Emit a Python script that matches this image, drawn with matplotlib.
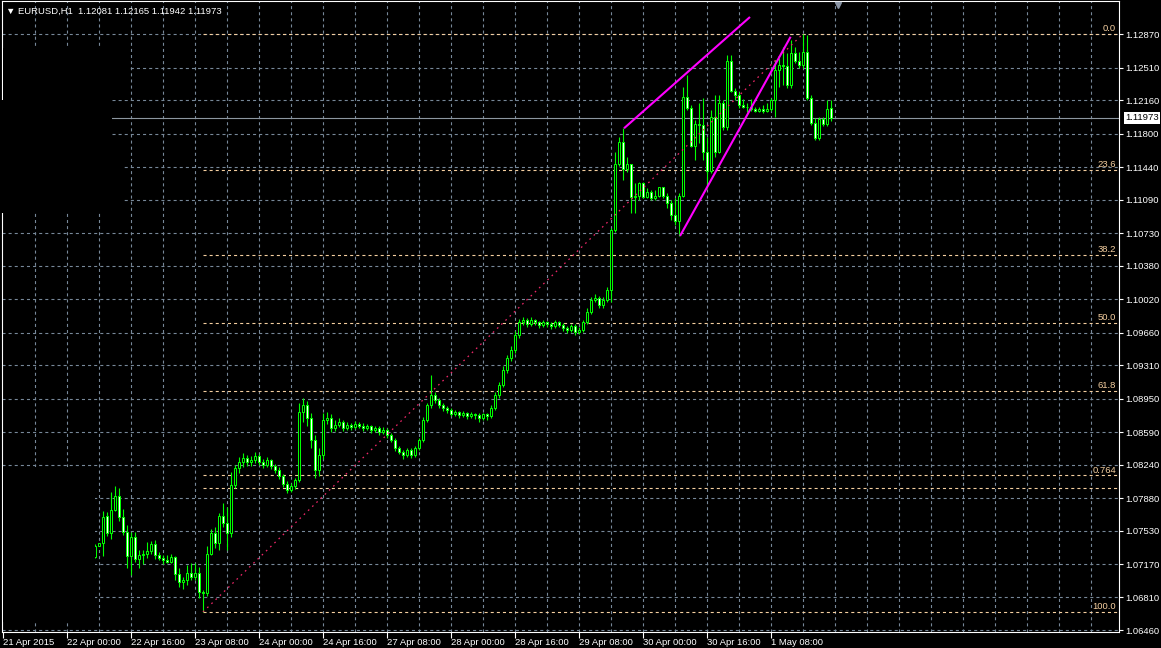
import matplotlib
matplotlib.use("Agg")
import matplotlib.pyplot as plt
from matplotlib.patches import Rectangle
from matplotlib.transforms import blended_transform_factory
from pathlib import Path
from typing import Tuple

plt.rcParams["font.family"] = ["Liberation Sans", "DejaVu Sans"]
plt.rcParams["lines.scale_dashes"] = False

LIME = "#00FF00"
GRID = "#778899"
FIB = "#F5CFA0"
TREND = "#F0286A"
CHANNEL = "#FF00FF"
FONT_SIZE = 6.8

SYMBOL_TEXT = "\u25bc EURUSD,H1  1.12081 1.12165 1.11942 1.11973"

# hourly bars, bar 0 = 21 Apr 2015 08:00, first visible bar is 23
FIRST_BAR = 23
opens = [
    1.07245, 1.07367, 1.07393, 1.07687, 1.07507, 1.07751, 1.07902, 1.07676, 1.07518, 1.07260,  # 23
    1.07461, 1.07224, 1.07272, 1.07274, 1.07310, 1.07385, 1.07267, 1.07235, 1.07217, 1.07192,  # 33
    1.07246, 1.07063, 1.06980, 1.06998, 1.07077, 1.07030, 1.07073, 1.06872, 1.06858, 1.07278,  # 43
    1.07504, 1.07396, 1.07687, 1.07615, 1.07507, 1.08020, 1.08203, 1.08268, 1.08311, 1.08268,  # 53
    1.08289, 1.08332, 1.08268, 1.08236, 1.08289, 1.08225, 1.08182, 1.08117, 1.08031, 1.07967,  # 63
    1.08010, 1.08074, 1.08806, 1.08881, 1.08741, 1.08505, 1.08182, 1.08343, 1.08720, 1.08741,  # 73
    1.08634, 1.08666, 1.08698, 1.08634, 1.08666, 1.08645, 1.08677, 1.08655, 1.08634, 1.08655,  # 83
    1.08612, 1.08634, 1.08591, 1.08612, 1.08558, 1.08505, 1.08418, 1.08375, 1.08343, 1.08397,  # 93
    1.08343, 1.08418, 1.08505, 1.08720, 1.08881, 1.08989, 1.08935, 1.08881, 1.08849, 1.08827,  # 103
    1.08784, 1.08806, 1.08774, 1.08795, 1.08763, 1.08784, 1.08774, 1.08741, 1.08784, 1.08763,  # 113
    1.08849, 1.08989, 1.09096, 1.09258, 1.09387, 1.09473, 1.09635, 1.09774, 1.09796, 1.09753,  # 123
    1.09796, 1.09774, 1.09742, 1.09774, 1.09753, 1.09731, 1.09774, 1.09742, 1.09710, 1.09688,  # 133
    1.09731, 1.09667, 1.09688, 1.09774, 1.09882, 1.10011, 1.10033, 1.09957, 1.10011, 1.10119,  # 143
    1.10764, 1.11471, 1.11708, 1.11421, 1.11471, 1.11116, 1.11130, 1.11267, 1.11123, 1.11173,  # 153
    1.11105, 1.11130, 1.11224, 1.11130, 1.11052, 1.10926, 1.10865, 1.11133, 1.12192, 1.12074,  # 163
    1.11672, 1.11905, 1.11894, 1.11607, 1.11403, 1.11984, 1.11607, 1.12128, 1.11876, 1.12583,  # 173
    1.12263, 1.12217, 1.12110, 1.12091, 1.12091, 1.12063, 1.12048, 1.12063, 1.12048, 1.12063,  # 183
    1.12163, 1.12486, 1.12540, 1.12529, 1.12325, 1.12672, 1.12586, 1.12540, 1.12683, 1.12182,  # 193
    1.11919, 1.11751, 1.11956, 1.11905, 1.12081,  # 203
]
highs = [
    1.07385, 1.07400, 1.07740, 1.07730, 1.07945, 1.08010, 1.07988, 1.07762, 1.07590, 1.07518,
    1.07515, 1.07321, 1.07321, 1.07407, 1.07418, 1.07428, 1.07299, 1.07267, 1.07267, 1.07281,
    1.07256, 1.07127, 1.07034, 1.07159, 1.07181, 1.07181, 1.07141, 1.06890, 1.07364, 1.07547,
    1.07572, 1.07722, 1.07827, 1.07787, 1.08160, 1.08240, 1.08320, 1.08360, 1.08340, 1.08330,
    1.08380, 1.08350, 1.08300, 1.08320, 1.08300, 1.08250, 1.08210, 1.08140, 1.08060, 1.08040,
    1.08100, 1.08900, 1.08960, 1.08920, 1.08790, 1.08560, 1.08420, 1.08800, 1.08810, 1.08780,
    1.08720, 1.08740, 1.08720, 1.08700, 1.08690, 1.08710, 1.08700, 1.08690, 1.08680, 1.08670,
    1.08660, 1.08650, 1.08640, 1.08630, 1.08580, 1.08530, 1.08440, 1.08400, 1.08420, 1.08420,
    1.08440, 1.08530, 1.08750, 1.08900, 1.09200, 1.09020, 1.08960, 1.08900, 1.08870, 1.08850,
    1.08830, 1.08820, 1.08820, 1.08810, 1.08810, 1.08800, 1.08790, 1.08800, 1.08800, 1.08880,
    1.09020, 1.09130, 1.09300, 1.09420, 1.09520, 1.09680, 1.09810, 1.09830, 1.09820, 1.09830,
    1.09810, 1.09790, 1.09800, 1.09790, 1.09770, 1.09800, 1.09790, 1.09760, 1.09730, 1.09750,
    1.09750, 1.09720, 1.09800, 1.09920, 1.10040, 1.10080, 1.10050, 1.10040, 1.10150, 1.10786,
    1.11607, 1.11768, 1.11859, 1.11553, 1.11475, 1.11267, 1.11284, 1.11278, 1.11213, 1.11195,
    1.11195, 1.11230, 1.11230, 1.11159, 1.11087, 1.11109, 1.11163, 1.12306, 1.12432, 1.12110,
    1.11948, 1.12128, 1.12182, 1.11768, 1.12056, 1.12217, 1.12217, 1.12163, 1.12648, 1.12648,
    1.12292, 1.12253, 1.12171, 1.12128, 1.12174, 1.12091, 1.12088, 1.12110, 1.12128, 1.12182,
    1.12594, 1.12612, 1.12737, 1.12669, 1.12809, 1.12737, 1.12683, 1.12875, 1.12863, 1.12217,
    1.11966, 1.11984, 1.11984, 1.12163, 1.12165,
]
lows = [
    1.07235, 1.07360, 1.07256, 1.07472, 1.07443, 1.07740, 1.07636, 1.07482, 1.07127, 1.07052,
    1.07192, 1.07127, 1.07170, 1.07235, 1.07278, 1.07224, 1.07213, 1.07170, 1.07181, 1.07181,
    1.06998, 1.06923, 1.06904, 1.06944, 1.06998, 1.06998, 1.06804, 1.06657, 1.06829, 1.07267,
    1.07342, 1.07321, 1.07568, 1.07321, 1.07461, 1.07990, 1.08150, 1.08210, 1.08220, 1.08230,
    1.08260, 1.08240, 1.08200, 1.08210, 1.08190, 1.08150, 1.08090, 1.08000, 1.07930, 1.07940,
    1.07980, 1.08050, 1.08700, 1.08650, 1.08420, 1.08100, 1.08120, 1.08300, 1.08680, 1.08590,
    1.08600, 1.08640, 1.08600, 1.08610, 1.08610, 1.08620, 1.08630, 1.08600, 1.08610, 1.08580,
    1.08590, 1.08560, 1.08570, 1.08530, 1.08480, 1.08390, 1.08350, 1.08300, 1.08320, 1.08310,
    1.08320, 1.08400, 1.08480, 1.08700, 1.08850, 1.08900, 1.08850, 1.08820, 1.08790, 1.08760,
    1.08760, 1.08740, 1.08750, 1.08730, 1.08740, 1.08730, 1.08700, 1.08720, 1.08720, 1.08740,
    1.08830, 1.08960, 1.09070, 1.09230, 1.09350, 1.09440, 1.09600, 1.09740, 1.09720, 1.09730,
    1.09740, 1.09710, 1.09720, 1.09720, 1.09700, 1.09710, 1.09720, 1.09680, 1.09660, 1.09670,
    1.09640, 1.09650, 1.09670, 1.09750, 1.09860, 1.09990, 1.09930, 1.09930, 1.09990, 1.09990,
    1.10743, 1.11453, 1.11302, 1.11389, 1.10947, 1.10947, 1.11087, 1.11109, 1.11105, 1.11087,
    1.11087, 1.11123, 1.11109, 1.11001, 1.10872, 1.10818, 1.10700, 1.11119, 1.12056, 1.11658,
    1.11518, 1.11697, 1.11518, 1.11213, 1.11375, 1.11553, 1.11593, 1.11841, 1.11841, 1.12249,
    1.12163, 1.12074, 1.12074, 1.12037, 1.12045, 1.12037, 1.12034, 1.12020, 1.12034, 1.12045,
    1.11984, 1.12306, 1.12325, 1.12292, 1.12289, 1.12562, 1.12508, 1.12508, 1.12163, 1.11894,
    1.11733, 1.11733, 1.11884, 1.11884, 1.11942,
]
closes = [
    1.07367, 1.07393, 1.07676, 1.07507, 1.07751, 1.07902, 1.07676, 1.07518, 1.07260, 1.07461,
    1.07224, 1.07267, 1.07280, 1.07310, 1.07385, 1.07267, 1.07235, 1.07217, 1.07192, 1.07246,
    1.07063, 1.06980, 1.06998, 1.07077, 1.07030, 1.07073, 1.06872, 1.06858, 1.07278, 1.07504,
    1.07396, 1.07687, 1.07615, 1.07507, 1.08020, 1.08203, 1.08268, 1.08311, 1.08268, 1.08289,
    1.08332, 1.08268, 1.08236, 1.08289, 1.08225, 1.08182, 1.08117, 1.08031, 1.07967, 1.08010,
    1.08074, 1.08806, 1.08881, 1.08741, 1.08505, 1.08182, 1.08343, 1.08720, 1.08741, 1.08634,
    1.08666, 1.08698, 1.08634, 1.08666, 1.08645, 1.08677, 1.08655, 1.08634, 1.08655, 1.08612,
    1.08634, 1.08591, 1.08612, 1.08558, 1.08505, 1.08418, 1.08375, 1.08343, 1.08397, 1.08343,
    1.08418, 1.08505, 1.08720, 1.08881, 1.08989, 1.08935, 1.08881, 1.08849, 1.08827, 1.08784,
    1.08806, 1.08774, 1.08795, 1.08763, 1.08784, 1.08774, 1.08741, 1.08784, 1.08763, 1.08849,
    1.08989, 1.09096, 1.09258, 1.09387, 1.09473, 1.09635, 1.09774, 1.09796, 1.09753, 1.09796,
    1.09774, 1.09742, 1.09774, 1.09753, 1.09731, 1.09774, 1.09742, 1.09710, 1.09688, 1.09731,
    1.09667, 1.09688, 1.09774, 1.09882, 1.10011, 1.10033, 1.09957, 1.10011, 1.10119, 1.10764,
    1.11471, 1.11708, 1.11421, 1.11471, 1.11116, 1.11130, 1.11267, 1.11123, 1.11173, 1.11105,
    1.11130, 1.11224, 1.11130, 1.11052, 1.10926, 1.10865, 1.11133, 1.12192, 1.12074, 1.11672,
    1.11905, 1.11894, 1.11607, 1.11403, 1.11984, 1.11607, 1.12128, 1.11876, 1.12583, 1.12263,
    1.12217, 1.12110, 1.12091, 1.12091, 1.12063, 1.12048, 1.12063, 1.12048, 1.12063, 1.12163,
    1.12486, 1.12540, 1.12529, 1.12325, 1.12672, 1.12586, 1.12540, 1.12683, 1.12182, 1.11919,
    1.11751, 1.11956, 1.11905, 1.12063, 1.11973,
]

time_ticks = [0, 16, 32, 48, 64, 80, 96, 112, 128, 144, 160, 176, 192]
time_labels = [
    "21 Apr 2015", "22 Apr 00:00", "22 Apr 16:00", "23 Apr 08:00",
    "24 Apr 00:00", "24 Apr 16:00", "27 Apr 08:00", "28 Apr 00:00",
    "28 Apr 16:00", "29 Apr 08:00", "30 Apr 00:00", "30 Apr 16:00",
    "1 May 08:00",
]
price_ticks = [
    1.12870, 1.12510, 1.12160, 1.11800, 1.11440, 1.11090, 1.10730,
    1.10380, 1.10020, 1.09660, 1.09310, 1.08950, 1.08590, 1.08240,
    1.07880, 1.07530, 1.07170, 1.06810, 1.06460,
]
bid_price = 1.11973

fib_bars = [50, 200]
fib_prices = [1.06655, 1.12875]
fib_levels = [0.0, 23.6, 38.2, 50.0, 61.8, 76.4, 78.6, 100.0]
fib_texts = ["0.0", "23.6", "38.2", "50.0", "61.8", "0.764", "", "100.0"]

channel_upper_bars = [155.25, 186.75]
channel_upper_prices = [1.11859, 1.13057]
channel_lower_bars = [169.25, 196.9]
channel_lower_prices = [1.10700, 1.12844]

# black rectangle objects hiding the left part of the chart
cover_bars = [(0.0, 31.75), (-0.75, 27.25), (-0.75, 30.25), (0.0, 23.0)]
cover_prices = [(1.12723, 1.12163), (1.12163, 1.11625),
                (1.11625, 1.10947), (1.08214, 1.06546)]

X_RANGE = (-0.25, 279.0)
Y_RANGE = (1.064385, 1.13229)
DASH = (2.2, 2.2)


def make_figure() -> Tuple[plt.Figure, plt.Axes]:
    fig = plt.figure(figsize=(11.61, 6.48), dpi=100, facecolor="black")
    ax = fig.add_axes([2 / 1161, 16 / 648, 1117 / 1161, 631 / 648])
    ax.set_facecolor("black")
    return fig, ax


def setup_axes(ax: plt.Axes) -> None:
    ax.set_xlim(*X_RANGE)
    ax.set_ylim(*Y_RANGE)
    for side in ("left", "right", "top", "bottom"):
        ax.spines[side].set_color("white")
        ax.spines[side].set_linewidth(0.8)
    ax.yaxis.tick_right()
    ax.set_yticks(price_ticks)
    ax.set_yticklabels([f"{p:.5f}" for p in price_ticks])
    ax.set_xticks(time_ticks)
    ax.set_xticklabels(time_labels)
    ax.tick_params(axis="y", colors="white", length=3, width=0.8,
                   pad=1.5, labelsize=FONT_SIZE)
    ax.tick_params(axis="x", colors="white", length=4, width=0.8,
                   pad=0.5, labelsize=FONT_SIZE)
    for lab in ax.get_xticklabels():
        lab.set_horizontalalignment("left")


def add_grid(ax: plt.Axes) -> None:
    style = dict(color=GRID, lw=0.8, dashes=DASH, zorder=1)
    for p in price_ticks:
        ax.axhline(p, **style)
    for b in range(8, int(X_RANGE[1]) + 1, 8):
        ax.axvline(b, **style)


def add_fibo(ax: plt.Axes) -> None:
    low, high = fib_prices
    span = high - low
    for level, text in zip(fib_levels, fib_texts):
        price = high - span * level / 100
        ax.plot([fib_bars[0], X_RANGE[1]], [price, price], color=FIB,
                lw=0.8, dashes=DASH, zorder=2)
        if text:
            ax.annotate(text, xy=(1, price),
                        xycoords=("axes fraction", "data"),
                        xytext=(-2, 0.6), textcoords="offset points",
                        ha="right", va="bottom", color=FIB,
                        fontsize=FONT_SIZE)
    ax.plot(fib_bars, fib_prices, color=TREND, lw=0.9,
            dashes=(1.2, 3.0), zorder=5)


def add_candles(ax: plt.Axes) -> None:
    bars = list(range(FIRST_BAR, FIRST_BAR + len(opens)))
    ax.vlines(bars, lows, highs, color=LIME, lw=0.8, zorder=3)
    bottoms = [min(o, c) for o, c in zip(opens, closes)]
    heights = [max(abs(c - o), 1e-6) for o, c in zip(opens, closes)]
    fills = ["black" if c >= o else "white" for o, c in zip(opens, closes)]
    ax.bar(bars, heights, bottom=bottoms, width=0.5, color=fills,
           edgecolor=LIME, linewidth=0.72, zorder=4)


def add_objects(ax: plt.Axes) -> None:
    ax.plot(channel_upper_bars, channel_upper_prices, color=CHANNEL,
            lw=1.5, solid_capstyle="butt", zorder=6)
    ax.plot(channel_lower_bars, channel_lower_prices, color=CHANNEL,
            lw=1.5, solid_capstyle="butt", zorder=6)

    ax.axhline(bid_price, color="#8C96A0", lw=0.8, zorder=2)
    ax.annotate(f"{bid_price:.5f}", xy=(1, bid_price),
                xycoords=("axes fraction", "data"),
                xytext=(4.5, 0), textcoords="offset points",
                ha="left", va="center", color="black", fontsize=FONT_SIZE,
                bbox=dict(boxstyle="square,pad=0.15", fc="white", ec="none"),
                annotation_clip=False)

    for (x0, x1), (p_top, p_bot) in zip(cover_bars, cover_prices):
        ax.add_patch(Rectangle((x0, p_bot), x1 - x0, p_top - p_bot,
                               facecolor="black", edgecolor="none",
                               zorder=10, clip_on=False))

    # chart shift marker
    trans = blended_transform_factory(ax.transData, ax.transAxes)
    ax.plot([208.75], [0.993], marker="v", ms=5, color="#8A95A5",
            transform=trans, clip_on=False, zorder=11)


def add_title(fig: plt.Figure) -> None:
    fig.text(6 / 1161, 1 - 11 / 648, SYMBOL_TEXT, ha="left", va="center",
             color="white", fontsize=FONT_SIZE)


def _save_figure(fig: plt.Figure, out_path: Path) -> None:
    fig.savefig(out_path, dpi=100, facecolor="black")


def entry_point(out_path: Path) -> None:
    fig, ax = make_figure()
    setup_axes(ax)
    add_grid(ax)
    add_fibo(ax)
    add_candles(ax)
    add_objects(ax)
    add_title(fig)
    _save_figure(fig, out_path)


if __name__ == "__main__":
    entry_point(Path("out.png"))
